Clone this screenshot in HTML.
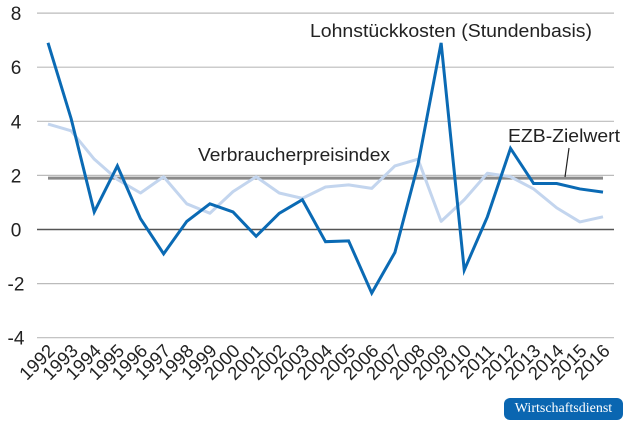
<!DOCTYPE html>
<html><head><meta charset="utf-8"><style>
body{margin:0;background:#fff;width:630px;height:425px;overflow:hidden;font-family:"Liberation Sans",sans-serif}
</style></head><body>
<svg id="chart" width="630" height="425" xmlns="http://www.w3.org/2000/svg" font-family="Liberation Sans, sans-serif"></svg>
<div style="position:absolute;left:504px;top:398px;width:119px;height:22px;background:#0a66b1;border-radius:6px;color:#fff;font-family:'Liberation Serif',serif;font-size:14px;line-height:22px;text-align:center">Wirtschaftsdienst</div>
<script>
const years=[1992,1993,1994,1995,1996,1997,1998,1999,2000,2001,2002,2003,2004,2005,2006,2007,2008,2009,2010,2011,2012,2013,2014,2015,2016];
const lohn=[6.9,4.1,0.65,2.35,0.4,-0.9,0.3,0.95,0.65,-0.25,0.6,1.1,-0.45,-0.42,-2.35,-0.85,2.4,6.9,-1.5,0.47,3.0,1.7,1.7,1.5,1.38];
const vpi=[3.9,3.65,2.6,1.85,1.35,1.95,0.95,0.6,1.4,1.95,1.35,1.15,1.57,1.65,1.52,2.35,2.6,0.3,1.1,2.08,1.95,1.5,0.8,0.28,0.47];
const target=[1.9];
const yTicks=[8,6,4,2,0,-2,-4];
const NS="http://www.w3.org/2000/svg";
const svg=document.getElementById('chart');
const X=i=>48+i*23.125;
const Y=v=>229.5-v*27.05;
function mk(t,a){const e=document.createElementNS(NS,t);for(const k in a)e.setAttribute(k,a[k]);svg.appendChild(e);return e;}
yTicks.forEach(v=>{
  const l=mk('line',{x1:37,x2:614,y1:Y(v),y2:Y(v),stroke:v===0?'#555':'#bbb','stroke-width':v===0?1.5:1.2});
  
  
  const t=mk('text',{x:16,y:Y(v)+7,'text-anchor':'middle','font-size':19,fill:'#222'});
  t.textContent=v;
  
  
});
years.forEach((yr,i)=>{
  const t=mk('text',{x:X(i)+8,y:352,'text-anchor':'end','font-size':18.5,fill:'#222',transform:`rotate(-45 ${X(i)+8} 352)`});
  t.textContent=yr;
  
  
});
const tl=mk('line',{x1:X(0),x2:X(years.length-1),y1:Y(target[0]),y2:Y(target[0]),stroke:'#8a8a8a','stroke-width':3});


const p1=mk('polyline',{points:vpi.map((v,i)=>X(i)+','+Y(v)).join(' '),fill:'none',stroke:'#c3d5ee','stroke-width':3,'stroke-linejoin':'round'});


const p2=mk('polyline',{points:lohn.map((v,i)=>X(i)+','+Y(v)).join(' '),fill:'none',stroke:'#0a6ab4','stroke-width':3,'stroke-linejoin':'miter'});


const lab=[['Lohnstückkosten (Stundenbasis)',310,37,'label-lohnstueckkosten',282],['Verbraucherpreisindex',198,161,'label-vpi',192],['EZB-Zielwert',508,142,'label-ezb',112]];
lab.forEach(a=>{const t=mk('text',{x:a[1],y:a[2],'font-size':18.5,fill:'#222',textLength:a[4],lengthAdjust:'spacingAndGlyphs'});t.textContent=a[0];
  
  });
const ll=mk('line',{x1:569,y1:148,x2:565,y2:177,stroke:'#222','stroke-width':1.2});


</script>
</body></html>
